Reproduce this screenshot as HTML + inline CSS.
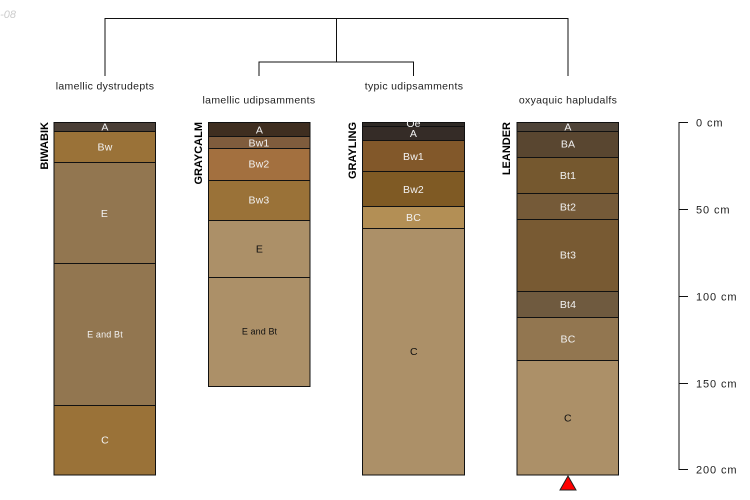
<!DOCTYPE html>
<html><head><meta charset="utf-8"><style>
html,body{margin:0;padding:0;background:#fff}
svg{display:block}
text{font-family:"Liberation Sans",sans-serif}
.t{font-size:10.5px;letter-spacing:.32px;fill:#222;text-anchor:middle}
.h{font-size:10.5px;letter-spacing:.15px;text-anchor:middle;fill:#f2f2f2}
.d{fill:#111}
.n{font-size:11px;font-weight:bold;fill:#000;text-anchor:end}
.a{font-size:11px;letter-spacing:.9px;fill:#222}
rect{stroke:#111;stroke-width:1}
path{fill:none;stroke:#111;stroke-width:1}
</style></head><body>
<svg width="750" height="500" viewBox="0 0 750 500" xmlns="http://www.w3.org/2000/svg">
<text x="16" y="18" text-anchor="end" font-size="11" font-style="italic" fill="#ccc">-08</text>

<path d="M105 76V18.5H568V76M336.5 18.5V62M259 76V62H413.5V76"/>
<text class="t" x="105" y="89.5">lamellic dystrudepts</text>
<text class="t" x="259" y="103.5">lamellic udipsamments</text>
<text class="t" x="414" y="89.5">typic udipsamments</text>
<text class="t" x="568" y="103.5">oxyaquic hapludalfs</text>

<!-- BIWABIK -->
<rect x="54" y="122.5" width="101.5" height="9" fill="#4a3f36"/>
<rect x="54" y="131.5" width="101.5" height="31" fill="#9a7238"/>
<rect x="54" y="162.5" width="101.5" height="101" fill="#927650"/>
<rect x="54" y="263.5" width="101.5" height="142" fill="#927650"/>
<rect x="54" y="405.5" width="101.5" height="69.5" fill="#9a7238"/>
<text class="h" x="105" y="130.5">A</text>
<text class="h" x="105" y="150.5">Bw</text>
<text class="h" x="104.5" y="217">E</text>
<text class="h" x="105" y="337.5" style="font-size:9px">E and Bt</text>
<text class="h" x="105" y="443.5">C</text>
<text class="n" transform="translate(48 122) rotate(-90)">BIWABIK</text>

<!-- GRAYCALM -->
<rect x="208.5" y="122.5" width="101.5" height="14" fill="#3f2e20"/>
<rect x="208.5" y="136.5" width="101.5" height="12" fill="#7f5c3d"/>
<rect x="208.5" y="148.5" width="101.5" height="32" fill="#a3703f"/>
<rect x="208.5" y="180.5" width="101.5" height="40" fill="#9a7238"/>
<rect x="208.5" y="220.5" width="101.5" height="57" fill="#ac9068"/>
<rect x="208.5" y="277.5" width="101.5" height="109" fill="#ac9068"/>
<text class="h" x="259.5" y="133.5">A</text>
<text class="h" x="259" y="146.5">Bw1</text>
<text class="h" x="259" y="167.5">Bw2</text>
<text class="h" x="259" y="203.5">Bw3</text>
<text class="t d" x="259.5" y="252.5">E</text>
<text class="t d" x="259.5" y="334.5" style="font-size:9px;letter-spacing:.1px">E and Bt</text>
<text class="n" transform="translate(202 122) rotate(-90)">GRAYCALM</text>

<!-- GRAYLING -->
<rect x="362.5" y="122.5" width="102" height="4" fill="#2f2a26"/>
<rect x="362.5" y="126.5" width="102" height="14" fill="#352c27"/>
<rect x="362.5" y="140.5" width="102" height="31" fill="#82582a"/>
<rect x="362.5" y="171.5" width="102" height="35" fill="#7f5a24"/>
<rect x="362.5" y="206.5" width="102" height="22" fill="#b38f55"/>
<rect x="362.5" y="228.5" width="102" height="246.5" fill="#ac9068"/>
<text class="h" x="413.5" y="127">Oe</text>
<text class="h" x="413.5" y="137">A</text>
<text class="h" x="413.5" y="160">Bw1</text>
<text class="h" x="413.5" y="193">Bw2</text>
<text class="h" x="413.5" y="221">BC</text>
<text class="t d" x="414" y="355">C</text>
<text class="n" transform="translate(356 122) rotate(-90)">GRAYLING</text>

<!-- LEANDER -->
<rect x="517" y="122.5" width="101.5" height="9" fill="#4f4438"/>
<rect x="517" y="131.5" width="101.5" height="26" fill="#594630"/>
<rect x="517" y="157.5" width="101.5" height="36" fill="#75582f"/>
<rect x="517" y="193.5" width="101.5" height="26" fill="#755a38"/>
<rect x="517" y="219.5" width="101.5" height="72" fill="#785a33"/>
<rect x="517" y="291.5" width="101.5" height="26" fill="#6f5a3f"/>
<rect x="517" y="317.5" width="101.5" height="43" fill="#927650"/>
<rect x="517" y="360.5" width="101.5" height="114.5" fill="#ac9068"/>
<text class="h" x="568" y="130.5">A</text>
<text class="h" x="568" y="147.5">BA</text>
<text class="h" x="568" y="179">Bt1</text>
<text class="h" x="568" y="210.5">Bt2</text>
<text class="h" x="568" y="258.5">Bt3</text>
<text class="h" x="568" y="308">Bt4</text>
<text class="h" x="568" y="342.5">BC</text>
<text class="t d" x="568" y="421.5">C</text>
<text class="n" transform="translate(510 122) rotate(-90)">LEANDER</text>

<polygon points="568,476 560,490 576,490" fill="#f00" stroke="#222" stroke-width="1"/>

<!-- depth axis -->
<path d="M688 122.5H679V469.5H688M679 209.5H688M679 296.5H688M679 383.5H688" stroke="#333"/>
<text class="a" x="696" y="126.5">0 cm</text>
<text class="a" x="696" y="213.5">50 cm</text>
<text class="a" x="696" y="300.5">100 cm</text>
<text class="a" x="696" y="387.5">150 cm</text>
<text class="a" x="696" y="473.5">200 cm</text>
</svg>
</body></html>
